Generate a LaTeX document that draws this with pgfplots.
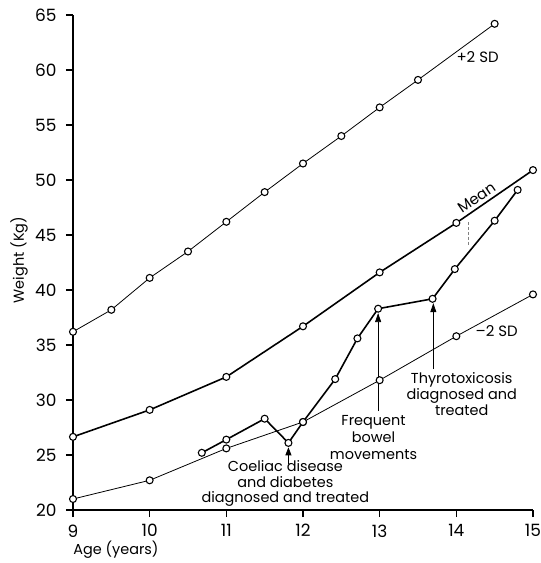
\documentclass[border=0pt]{standalone}
\usepackage{fontspec}
\setmainfont{Poppins}
\usepackage{pgfplots}
\pgfplotsset{compat=1.18}
\usetikzlibrary{arrows.meta}
\begin{document}
\begin{tikzpicture}
\path[use as bounding box] (-73bp,-53bp) rectangle (468bp,510bp);
\begin{axis}[
 at={(0,0)}, anchor=south west,
 scale only axis, width=460bp, height=495bp,
 xmin=9, xmax=15, ymin=20, ymax=65,
 axis x line=bottom, axis y line=left,
 axis line style={-, line width=1.3pt},
 xtick={9,...,15}, ytick={20,25,...,65},
 tick align=outside, major tick length=7bp,
 tick style={line width=1.3pt, black},
 /pgf/number format/assume math mode=true,
 ticklabel style={font=\fontsize{17}{19}\selectfont},
 xticklabel style={yshift=-4bp},
 yticklabel style={xshift=-6bp},
 xlabel={Age (years)}, ylabel={Weight (Kg)},
 every axis x label/.style={at={(axis description cs:-0.007,-0.081)}, anchor=west, font=\fontsize{14.5}{16}\selectfont},
 every axis y label/.style={at={(axis description cs:-0.117,0.505)}, rotate=90, anchor=center, font=\fontsize{14.5}{16}\selectfont},
 clip=false,
 thinsd/.style={black, line width=0.8pt, mark=*, mark size=3.5pt, mark options={fill=white, line width=1.1pt, solid}},
 thicksd/.style={black, line width=1.6pt, mark=*, mark size=3.5pt, mark options={fill=white, line width=1.1pt, solid}},
]
% +2 SD
\addplot[thinsd] coordinates {(9,36.2) (9.5,38.2) (10,41.1) (10.5,43.5) (11,46.2) (11.5,48.9) (12,51.5) (12.5,54.0) (13,56.6) (13.5,59.1) (14.5,64.2)};
% Mean
\addplot[thicksd] coordinates {(9,26.65) (10,29.1) (11,32.1) (12,36.7) (13,41.6) (14,46.1) (15,50.9)};
% -2 SD
\addplot[thinsd] coordinates {(9,21.0) (10,22.7) (11,25.6) (12,28.0) (13,31.8) (14,35.8) (15,39.6)};
% Patient
\addplot[thicksd] coordinates {(10.68,25.2) (11.0,26.4) (11.5,28.3) (11.81,26.1) (12.0,28.0) (12.42,31.9) (12.71,35.6) (12.98,38.3) (13.69,39.2) (13.98,41.9) (14.5,46.3) (14.8,49.1)};

% arrows
\draw[line width=0.8pt, -{Triangle[length=9bp, width=6bp]}] (axis cs:12.98,29.0) -- (axis cs:12.98,37.9);
\draw[line width=0.8pt, -{Triangle[length=9bp, width=6bp]}] (axis cs:13.70,32.8) -- (axis cs:13.70,38.8);
\draw[line width=0.8pt, -{Triangle[length=8bp, width=6bp]}] (axis cs:11.81,24.2) -- (axis cs:11.81,25.7);
\draw[gray, line width=0.4pt, densely dashed] (axis cs:14.15,46.2) -- (axis cs:14.15,44.1);

% labels
\node[anchor=west, font=\fontsize{15}{16}\selectfont, inner sep=0pt] at (axis cs:14.0,61.2) {+2 SD};
\node[rotate=34.5, anchor=south, font=\fontsize{15}{16}\selectfont, inner sep=3.5bp] at (axis cs:14.33,47.7) {Mean};
\node[anchor=west, font=\fontsize{15}{16}\selectfont, inner sep=0pt] at (axis cs:14.25,36.3) {--2 SD};
\node[align=center, font=\fontsize{14.5}{16}\selectfont, inner sep=0pt] at (axis cs:14.07,30.55) {Thyrotoxicosis\\diagnosed and\\treated};
\node[align=center, font=\fontsize{14.5}{17}\selectfont, inner sep=0pt] at (axis cs:12.92,26.6) {Frequent\\bowel\\movements};
\node[align=center, font=\fontsize{14.5}{15.5}\selectfont, inner sep=0pt] at (axis cs:11.77,22.4) {Coeliac disease\\and diabetes\\diagnosed and treated};
\end{axis}
\end{tikzpicture}
\end{document}
